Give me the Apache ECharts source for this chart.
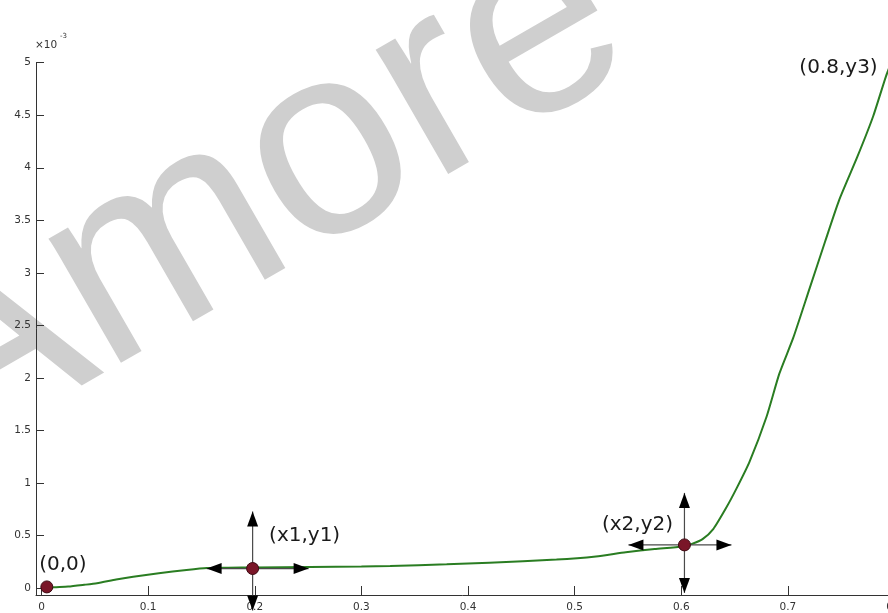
<!DOCTYPE html>
<html>
<head>
<meta charset="utf-8">
<script src="https://cdn.jsdelivr.net/npm/echarts@6/dist/echarts.min.js"></script>
<style>
  html, body { margin: 0; padding: 0; background: #fff; }
  #main { width: 888px; height: 613px; }
</style>
</head>
<body>
<div id="main"></div>
<script>
// curve samples (y in units of 1e-3)
var curveX = [0.005, 0.012, 0.025, 0.04, 0.052, 0.07, 0.086, 0.11, 0.136, 0.155, 0.175, 0.2,
  0.252, 0.3, 0.327, 0.38, 0.42, 0.483, 0.52, 0.548, 0.575, 0.601, 0.61, 0.62, 0.63, 0.642,
  0.652, 0.664, 0.68, 0.692, 0.705, 0.72, 0.735, 0.748, 0.765, 0.78, 0.792, 0.8]
var curveY = [0.0, 0.006, 0.013, 0.03, 0.045, 0.08, 0.107, 0.14, 0.171, 0.19, 0.193, 0.195,
  0.2, 0.205, 0.21, 0.225, 0.241, 0.27, 0.3, 0.34, 0.37, 0.395, 0.42, 0.465, 0.56, 0.76,
  0.95, 1.2, 1.63, 2.04, 2.38, 2.84, 3.3, 3.69, 4.1, 4.49, 4.87, 5.08]

// marked points
var pointNames = ['(0,0)', '(x1,y1)', '(x2,y2)', '(0.8,y3)']
var pointX = [0.005, 0.198, 0.603, 0.8]
var pointY = [0.01, 0.185, 0.41, 5.0]

// tick labels
var xTicks = [0, 0.1, 0.2, 0.3, 0.4, 0.5, 0.6, 0.7, 0.8]
var yTicks = [0, 0.5, 1, 1.5, 2, 2.5, 3, 3.5, 4, 4.5, 5]

// style: label offsets and arrow lengths [up, down, left, right] per point
var labelOffsets = [[16, -22], [52, -33], [-47, -20], [-56, 5]]
var arrowLens = [null, [57, 42, 46, 56], [52, 48, 56, 47], null]

var chart = echarts.init(document.getElementById('main'), null, { renderer: 'canvas' })

function arrow(children, c, d, len) {
  var tip = [c[0] + d[0] * len, c[1] + d[1] * len]
  var base = [tip[0] - d[0] * 15, tip[1] - d[1] * 15]
  var p = [-d[1], d[0]]
  children.push({
    type: 'line',
    shape: { x1: c[0], y1: c[1], x2: tip[0], y2: tip[1] },
    style: { stroke: '#4a4a4a', lineWidth: 1.2 }
  })
  children.push({
    type: 'polygon',
    shape: { points: [tip, [base[0] + p[0] * 5.5, base[1] + p[1] * 5.5], [base[0] - p[0] * 5.5, base[1] - p[1] * 5.5]] },
    style: { fill: '#000' }
  })
}

var curveData = curveX.map(function (x, i) { return [x, curveY[i]] })
var pointData = pointX.map(function (x, i) {
  return {
    name: pointNames[i],
    value: [x, pointY[i]],
    label: { offset: labelOffsets[i] }
  }
})
var arrowData = []
pointX.forEach(function (x, i) {
  if (arrowLens[i]) arrowData.push({ value: [x, pointY[i]], idx: i })
})

var axisFont = { fontFamily: 'DejaVu Sans', fontSize: 10.5, color: '#333' }

var option = {
  animation: false,
  backgroundColor: '#fff',
  grid: { left: 36, right: -6.5, top: 62.7, bottom: 18, outerBoundsMode: 'none', containLabel: false },
  xAxis: {
    type: 'value',
    min: -0.00516,
    max: 0.8,
    splitLine: { show: false },
    axisLine: { onZero: false, lineStyle: { color: '#333', width: 1 } },
    axisTick: { inside: true, length: 9, customValues: xTicks, lineStyle: { color: '#333' } },
    axisLabel: Object.assign({ customValues: xTicks, margin: 7, hideOverlap: false, formatter: function (v) { return String(v) } }, axisFont)
  },
  yAxis: {
    type: 'value',
    min: -0.067,
    max: 5,
    splitLine: { show: false },
    axisLine: { onZero: false, lineStyle: { color: '#333', width: 1 } },
    axisTick: { inside: true, length: 8, customValues: yTicks, lineStyle: { color: '#333' } },
    axisLabel: Object.assign({ customValues: yTicks, margin: 5, formatter: function (v) { return String(v) } }, axisFont)
  },
  graphic: [
    {
      type: 'text', z: -10, x: -90, y: 398, rotation: Math.PI / 6,
      style: { text: 'Amore', font: '272px "Liberation Sans"', fill: '#cfcfcf', textAlign: 'left', textVerticalAlign: 'middle' }
    },
    {
      type: 'text', x: 35, y: 45,
      style: { text: '×10', font: '10.5px "DejaVu Sans"', fill: '#333', textAlign: 'left', textVerticalAlign: 'middle' }
    },
    {
      type: 'text', x: 60, y: 36,
      style: { text: '-3', font: '7px "DejaVu Sans"', fill: '#333', textAlign: 'left', textVerticalAlign: 'middle' }
    }
  ],
  series: [
    {
      type: 'line',
      data: curveData,
      smooth: 0.2,
      symbol: 'none',
      z: 2,
      lineStyle: { color: '#2a7d22', width: 2 }
    },
    {
      type: 'custom',
      z: 3,
      data: arrowData,
      renderItem: function (params, api) {
        var c = api.coord([api.value(0), api.value(1)])
        var L = arrowLens[arrowData[params.dataIndex].idx]
        var children = []
        arrow(children, c, [0, -1], L[0])
        arrow(children, c, [0, 1], L[1])
        arrow(children, c, [-1, 0], L[2])
        arrow(children, c, [1, 0], L[3])
        return { type: 'group', children: children }
      }
    },
    {
      type: 'scatter',
      z: 4,
      data: pointData,
      symbolSize: 12,
      itemStyle: { color: '#7a1628', borderColor: '#3d0a12', borderWidth: 1, opacity: 1 },
      label: {
        show: true,
        position: 'inside',
        formatter: '{b}',
        fontFamily: 'DejaVu Sans',
        fontSize: 20,
        color: '#1a1a1a'
      }
    }
  ]
}

chart.setOption(option)
</script>
</body>
</html>
